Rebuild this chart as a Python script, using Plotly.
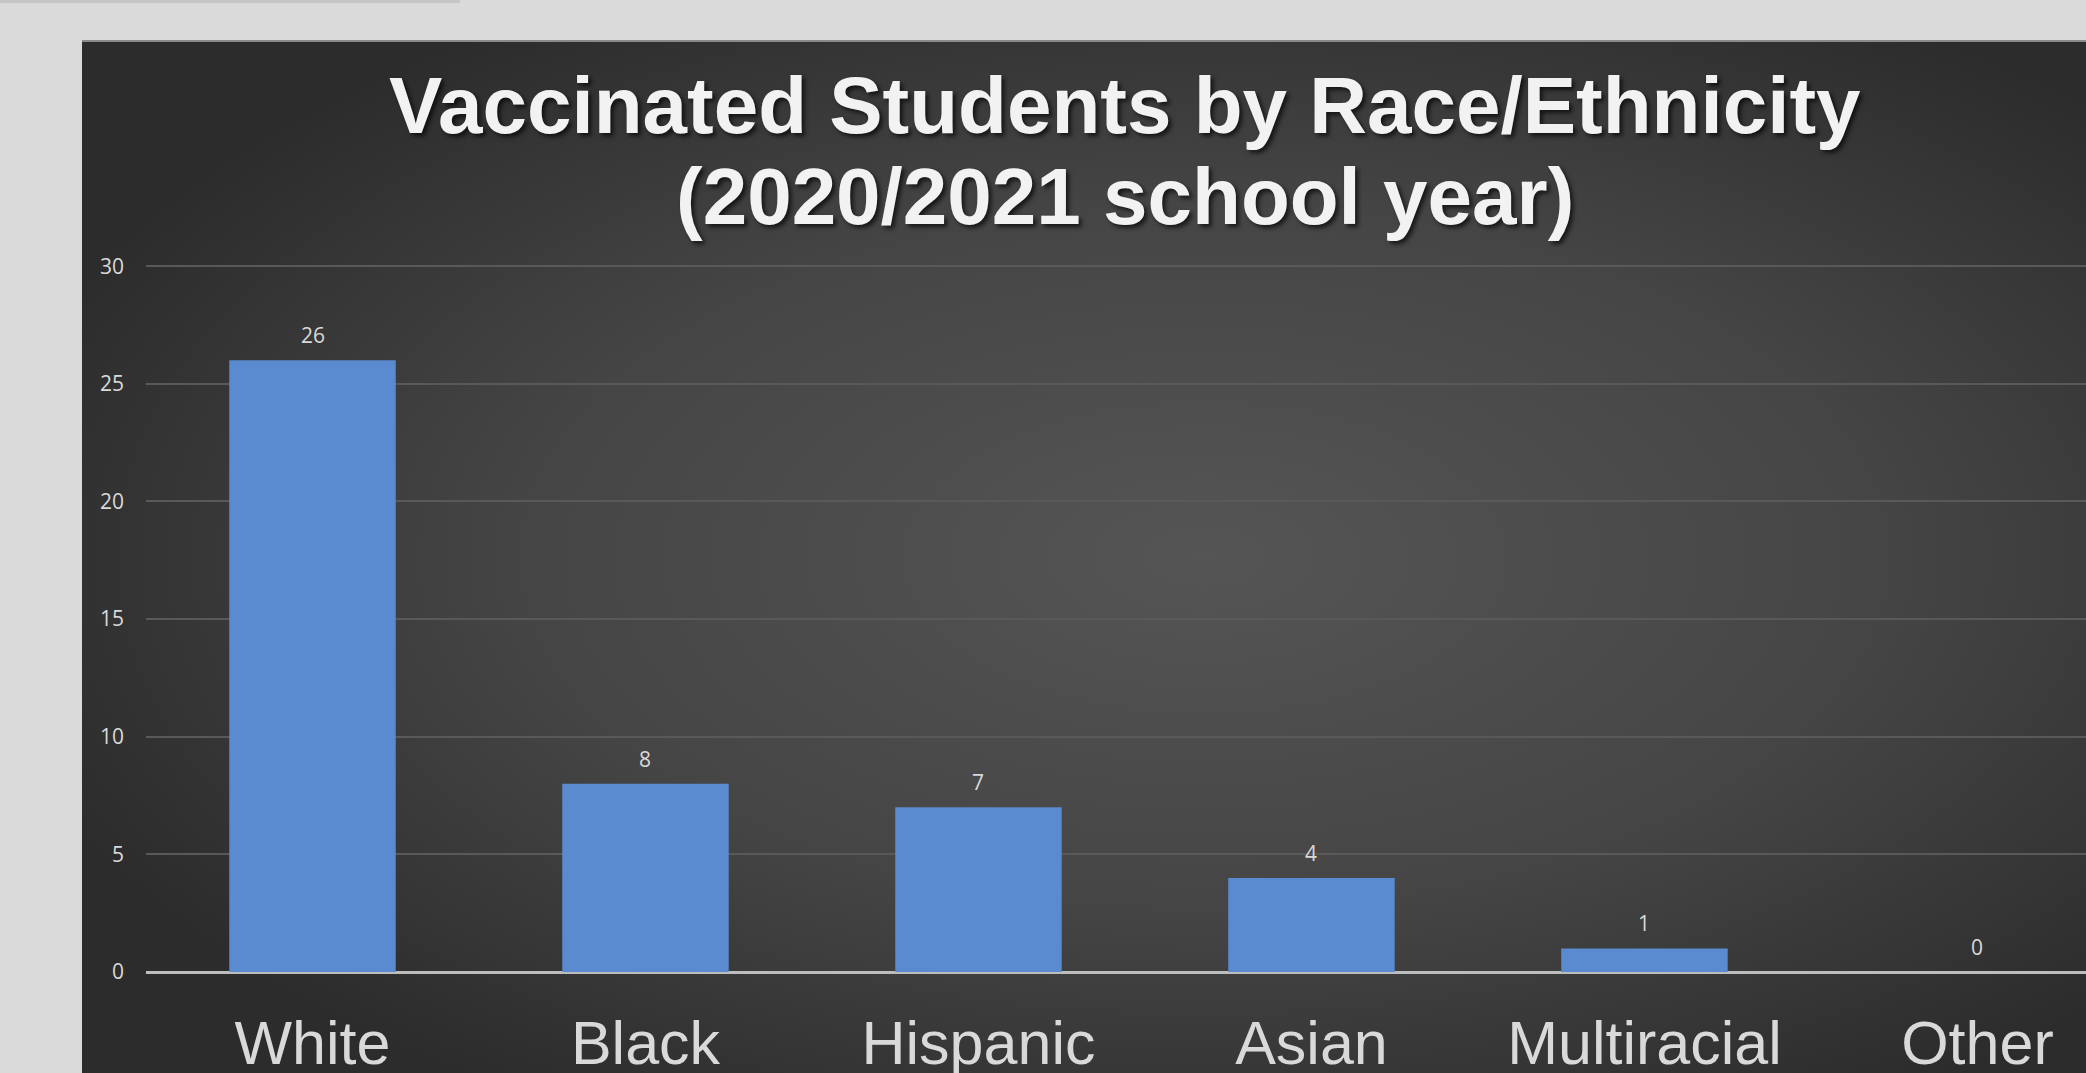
import base64
import plotly.graph_objects as go

# ---- data ----
categories = ["White", "Black", "Hispanic", "Asian", "Multiracial", "Other"]
values = [26, 8, 7, 4, 1, 0]
y_ticks = [0, 5, 10, 15, 20, 25, 30]
title_line1 = "Vaccinated Students by Race/Ethnicity"
title_line2 = "(2020/2021 school year)"

# ---- layout geometry (pixels) ----
W, H = 2086, 1073
L, R, T, B = 146, 0, 265, 101
PW, PH = W - L - R, H - T - B


def px_x(px):
    return (px - L) / PW


def px_y(py):
    return (H - B - py) / PH


# radial gradient background for the dark panel
svg = (
    "<svg xmlns='http://www.w3.org/2000/svg' width='2004' height='1032' preserveAspectRatio='none'>"
    "<defs><radialGradient id='g' cx='0.56' cy='0.50' r='0.62'>"
    "<stop offset='0' stop-color='#555555'/>"
    "<stop offset='0.55' stop-color='#454545'/>"
    "<stop offset='1' stop-color='#2c2c2c'/>"
    "</radialGradient></defs>"
    "<rect width='100%' height='100%' fill='url(#g)'/></svg>"
)
svg_uri = "data:image/svg+xml;base64," + base64.b64encode(svg.encode()).decode()

fig = go.Figure()
fig.add_trace(
    go.Bar(
        x=categories,
        y=values,
        width=0.5,
        marker=dict(color="#5a8acf", line=dict(color="#3f6dad", width=0)),
        hoverinfo="skip",
    )
)

annotations = []
for c, v in zip(categories, values):
    annotations.append(
        dict(
            x=c, y=v, xref="x", yref="y", text=str(v), showarrow=False,
            yanchor="bottom", yshift=9,
            font=dict(family="Open Sans", size=21, color="#d9d9d9"),
        )
    )

title_font = dict(family="Liberation Sans", size=80, color="#f2f2f2",
                  weight="bold", shadow="3px 3px 4px rgba(0,0,0,0.65)")
annotations.append(dict(x=px_x(1125), y=px_y(152), xref="paper", yref="paper",
                        text="<b>" + title_line1 + "</b>", showarrow=False,
                        xanchor="center", yanchor="bottom", font=title_font))
annotations.append(dict(x=px_x(1125), y=px_y(243), xref="paper", yref="paper",
                        text="<b>" + title_line2 + "</b>", showarrow=False,
                        xanchor="center", yanchor="bottom", font=title_font))

fig.update_layout(
    width=W, height=H,
    margin=dict(l=L, r=R, t=T, b=B, pad=0, autoexpand=False),
    paper_bgcolor="#dadada",
    plot_bgcolor="rgba(0,0,0,0)",
    showlegend=False,
    bargap=0.5,
    annotations=annotations,
    images=[dict(source=svg_uri, xref="paper", yref="paper",
                 x=px_x(82), y=px_y(41), sizex=px_x(2086) - px_x(82),
                 sizey=px_y(41) - px_y(1073), xanchor="left", yanchor="top",
                 sizing="stretch", layer="below")],
    shapes=[
        dict(type="rect", xref="paper", yref="paper", x0=px_x(0), x1=px_x(460),
             y0=px_y(3), y1=px_y(0), fillcolor="#c6c6c6", line=dict(width=0), layer="below"),
        dict(type="line", xref="paper", yref="paper", x0=px_x(82), x1=px_x(2086),
             y0=px_y(41), y1=px_y(41), line=dict(color="#8a8a8a", width=2), layer="below"),
    ],
    xaxis=dict(
        range=[-0.5, 5.326],
        showgrid=False, showline=False, zeroline=False, ticks="",
        ticklabelstandoff=30, automargin=False,
        tickfont=dict(family="Liberation Sans", size=61, color="#d9d9d9"),
        fixedrange=True,
    ),
    yaxis=dict(
        range=[0, 30.05], tickvals=y_ticks,
        showgrid=True, gridcolor="#595959", gridwidth=1.5,
        zeroline=True, zerolinecolor="#bdbdbd", zerolinewidth=2.5,
        showline=False, ticks="", automargin=False,
        ticklabelstandoff=21,
        tickfont=dict(family="Open Sans", size=21, color="#d9d9d9"),
        fixedrange=True,
    ),
)

fig.write_html("out.html")
